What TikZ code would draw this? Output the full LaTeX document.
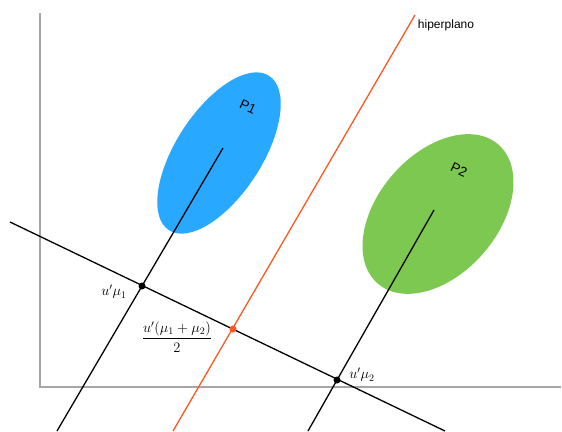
\documentclass[tikz,border=0pt]{standalone}
\usepackage{amsmath}
\usepackage{fontspec}
\newfontfamily\labelfont{Liberation Sans}
\definecolor{claseA}{RGB}{41,168,255}
\definecolor{claseB}{RGB}{125,200,80}
\definecolor{hiper}{RGB}{255,87,34}
\tikzset{
  punto/.style={circle,fill,inner sep=0pt,minimum size=7pt},
  eje/.style={gray!70,line width=1.7pt},
  rotulo/.style={font=\labelfont\fontsize{12}{14}\selectfont},
}

\begin{document}
\begin{tikzpicture}[x=1pt,y=-1pt,line width=1.3pt]
  \useasboundingbox (0,0) rectangle (562,431);
  % ejes
  \coordinate (o) at (40,387); \coordinate (ytop) at (40,13); \coordinate (xend) at (561,387);
  \draw[eje] (ytop) -- (o) -- (xend);
  % poblaciones P1 y P2
  \coordinate (e1) at (219,153); \coordinate (e2) at (438,214);
  \fill[claseA,rotate around={57:(e1)}] (e1) ellipse[x radius=92,y radius=43];
  \fill[claseB,rotate around={49:(e2)}] (e2) ellipse[x radius=92,y radius=60];
  \node[rotulo,font=\labelfont\fontsize{13.5}{15}\selectfont,rotate=-25] (np1) at (248,107) {P1};
  \node[rotulo,font=\labelfont\fontsize{13.5}{15}\selectfont,rotate=-25] (np2) at (459,170) {P2};
  % proyecciones
  \coordinate (c1) at (223,148); \coordinate (m1) at (142,286); \coordinate (l1) at (57,431);
  \coordinate (c2) at (434,210); \coordinate (m2) at (337,380); \coordinate (l2) at (308,431);
  \coordinate (pa) at (10,222); \coordinate (pb) at (445,431);
  \coordinate (ha) at (415,15); \coordinate (hb) at (173,431); \coordinate (mid) at (233,329);
  \draw (c1) -- (m1) -- (l1);
  \draw (c2) -- (m2) -- (l2);
  \draw (pa) -- (pb);
  \draw[hiper] (ha) -- (hb);
  \node[rotulo,anchor=west] (hp) at (414,25) {hiperplano};
  % puntos y rotulos
  \node[punto] (d1) at (m1) {}; \node[punto] (d2) at (m2) {};
  \node[punto,fill=hiper] (dm) at (mid) {};
  \node (lm1) at (114,292) {\Large$u'\mu_1$};
  \node (lmid) at (177,337) {\Large$\dfrac{u'(\mu_1+\mu_2)}{2}$};
  \node (lm2) at (362,375) {\Large$u'\mu_2$};
\end{tikzpicture}
\end{document}
